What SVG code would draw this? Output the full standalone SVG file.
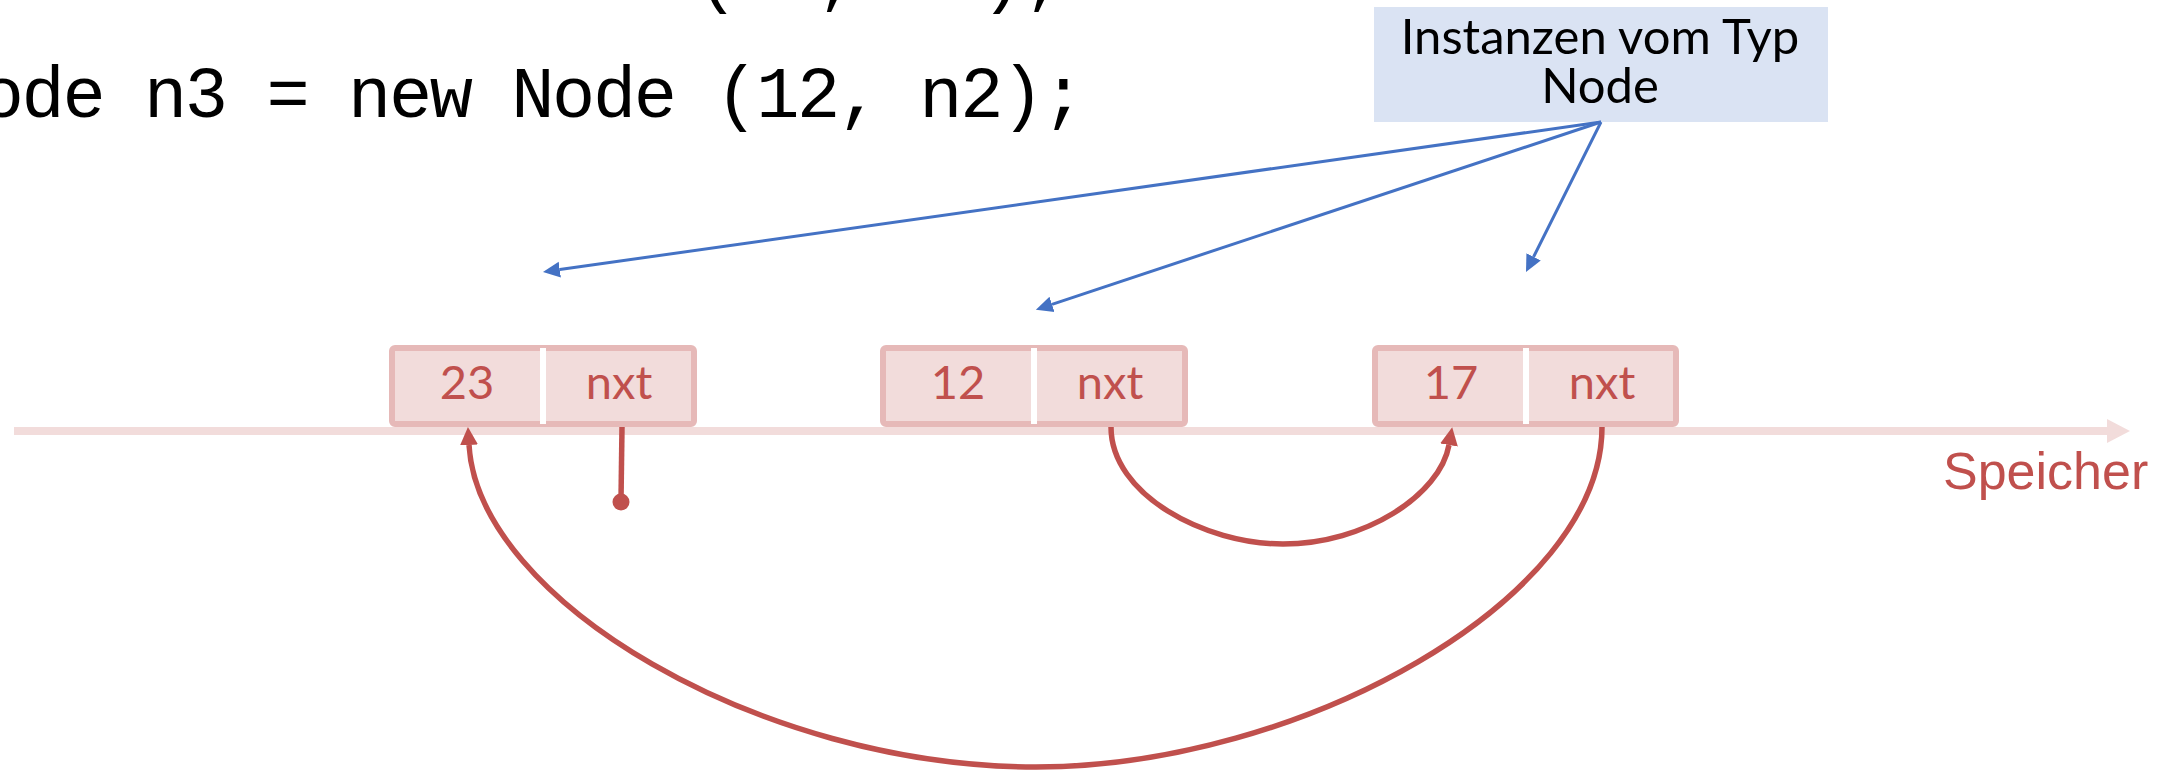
<svg xmlns="http://www.w3.org/2000/svg" width="2181" height="774" viewBox="0 0 2181 774">
<style>
.code{font-family:"Liberation Mono","DejaVu Sans Mono",monospace;font-size:72px;letter-spacing:-2.4px;fill:#000}
.cell{fill:#F2DCDB;stroke:#E6B9B8;stroke-width:6}
.div{fill:#FFFFFF}
.ct{font-family:Lato,"Open Sans",sans-serif;font-size:47px;fill:#C0504D;text-anchor:middle}
.lbl{font-family:Lato,"Open Sans",sans-serif;font-size:49px;fill:#000;text-anchor:middle}
.red{fill:none;stroke:#C0504D;stroke-width:5.5}
.blue{fill:none;stroke:#4472C4;stroke-width:3}
</style>
<defs>
<marker id="ra" markerUnits="userSpaceOnUse" viewBox="0 -10 20 20" markerWidth="20" markerHeight="20" refX="0" refY="0" orient="auto">
<path d="M0,-9 L18,0 L0,9 Z" fill="#C0504D"/>
</marker>
<marker id="ba" markerUnits="userSpaceOnUse" viewBox="0 -9 18 18" markerWidth="18" markerHeight="18" refX="0" refY="0" orient="auto">
<path d="M0,-8 L17,0 L0,8 Z" fill="#4472C4"/>
</marker>
</defs>
<rect width="2181" height="774" fill="#FFFFFF"/>
<g id="code">
<text class="code" x="-80" y="-1">Node n2 = new Node (17, n1);</text>
<text class="code" x="-60" y="117">Node n3 = new Node (12, n2);</text>
</g>
<g id="memory">
<line x1="14" y1="431" x2="2108" y2="431" stroke="#F2DCDB" stroke-width="8"/>
<polygon points="2107,419 2130,431 2107,443" fill="#F2DCDB"/>
<text x="1943" y="489" font-family="Liberation Sans, Arial, sans-serif" font-size="52" fill="#C0504D">Speicher</text>
</g>
<g id="node1">
<rect class="cell" x="392" y="348" width="302" height="76" rx="3"/>
<rect class="div" x="540" y="348" width="6" height="76"/>
<text class="ct" x="467" y="399">23</text>
<text class="ct" x="619" y="399">nxt</text>
</g>
<g id="node2">
<rect class="cell" x="883" y="348" width="302" height="76" rx="3"/>
<rect class="div" x="1031" y="348" width="6" height="76"/>
<text class="ct" x="958" y="399">12</text>
<text class="ct" x="1110" y="399">nxt</text>
</g>
<g id="node3">
<rect class="cell" x="1375" y="348" width="301" height="76" rx="3"/>
<rect class="div" x="1523" y="348" width="6" height="76"/>
<text class="ct" x="1451" y="399">17</text>
<text class="ct" x="1602" y="399">nxt</text>
</g>
<g id="label">
<rect x="1374" y="7" width="454" height="115" fill="#DAE3F3"/>
<text class="lbl" x="1600" y="54">Instanzen vom Typ</text>
<text class="lbl" x="1600" y="103">Node</text>
</g>
<g id="connectors">
<line class="red" x1="622" y1="427" x2="621" y2="500"/>
<circle cx="621" cy="502" r="8.5" fill="#C0504D"/>
<path class="red" d="M1111,427 C1111,495 1205,544 1283,544 C1365,544 1440,495 1449,445" marker-end="url(#ra)"/>
<path class="red" d="M1602,427 C1602,600 1300,767 1036,767 C760,767 478,600 469,445" marker-end="url(#ra)"/>
<line class="blue" x1="1601" y1="122" x2="559.8" y2="269.6" marker-end="url(#ba)"/>
<line class="blue" x1="1601" y1="122" x2="1052" y2="304.3" marker-end="url(#ba)"/>
<line class="blue" x1="1601" y1="122" x2="1533.6" y2="256.8" marker-end="url(#ba)"/>
</g>
</svg>
